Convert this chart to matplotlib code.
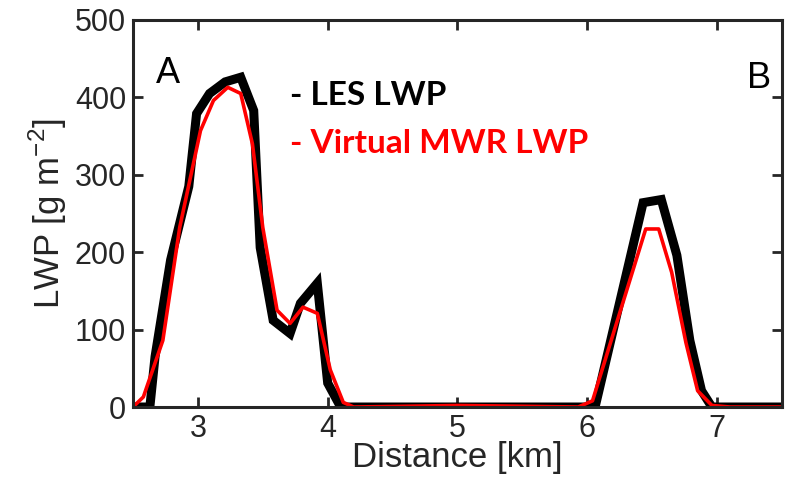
import matplotlib.pyplot as plt

# LES liquid water path along the transect
les_km = [2.5, 2.63, 2.67, 2.79, 2.93, 2.99, 3.09, 3.21, 3.33, 3.43, 3.48, 3.58,
          3.71, 3.79, 3.92, 4.0, 4.1, 5.0, 6.06, 6.43, 6.57, 6.69, 6.79, 6.88,
          6.96, 7.5]
les_lwp = [0, 0, 65, 190, 285, 379, 405, 420, 426, 383, 206, 112,
           95, 134, 160, 31, 0, 0, 0, 264, 268, 196, 86, 21,
           0, 0]

# virtual microwave radiometer retrieval
mwr_km = [2.5, 2.58, 2.73, 2.86, 3.02, 3.12, 3.23, 3.33, 3.42, 3.5, 3.61, 3.71,
          3.81, 3.92, 4.02, 4.12, 4.2, 4.6, 5.0, 5.5, 5.93, 6.04, 6.45, 6.55,
          6.65, 6.76, 6.85, 6.96, 7.1, 7.5]
mwr_lwp = [0, 13, 86, 232, 357, 396, 413, 405, 340, 232, 125, 108,
           129, 121, 48, 6, 0, 1, 2, 1, 0, 8, 230, 230,
           174, 83, 21, 2, 0, 0]

xticks = [3, 4, 5, 6, 7]
yticks = [0, 100, 200, 300, 400, 500]

axcol = '#262626'
plt.rcParams['font.family'] = 'Liberation Sans'

fig = plt.figure(figsize=(7.85, 4.78), dpi=100)
ax = fig.add_axes([0.1694, 0.1485, 0.8268, 0.8097])

ax.plot(les_km, les_lwp, color='black', lw=6.5, solid_joinstyle='miter')
ax.plot(mwr_km, mwr_lwp, color='#ff0000', lw=2.6)

ax.set_xlim(2.5, 7.5)
ax.set_ylim(0, 500)
ax.set_xticks(xticks)
ax.set_yticks(yticks)
ax.tick_params(direction='in', length=7, width=2, colors=axcol, labelsize=22,
               top=True, right=True, pad=5)
for s in ax.spines.values():
    s.set_linewidth(2.2)
    s.set_color(axcol)

ax.set_xlabel('Distance [km]', fontsize=25, color=axcol, labelpad=-2)
ax.set_ylabel('LWP [g m$^{\\mathregular{-2}}$]', fontsize=25, color=axcol, labelpad=4)

ax.text(2.77, 431, 'A', fontsize=26, color='black', ha='center', va='center')
ax.text(7.32, 424, 'B', fontsize=26, color='black', ha='center', va='center')

ax.text(0.242, 0.780, '- LES LWP', transform=ax.transAxes, fontsize=24,
        fontweight='bold', family='Lato', color='black', va='baseline')
ax.text(0.242, 0.656, '- Virtual MWR LWP', transform=ax.transAxes, fontsize=24,
        fontweight='bold', family='Lato', color='#ff0000', va='baseline')

fig.savefig('out.png', dpi=100)
